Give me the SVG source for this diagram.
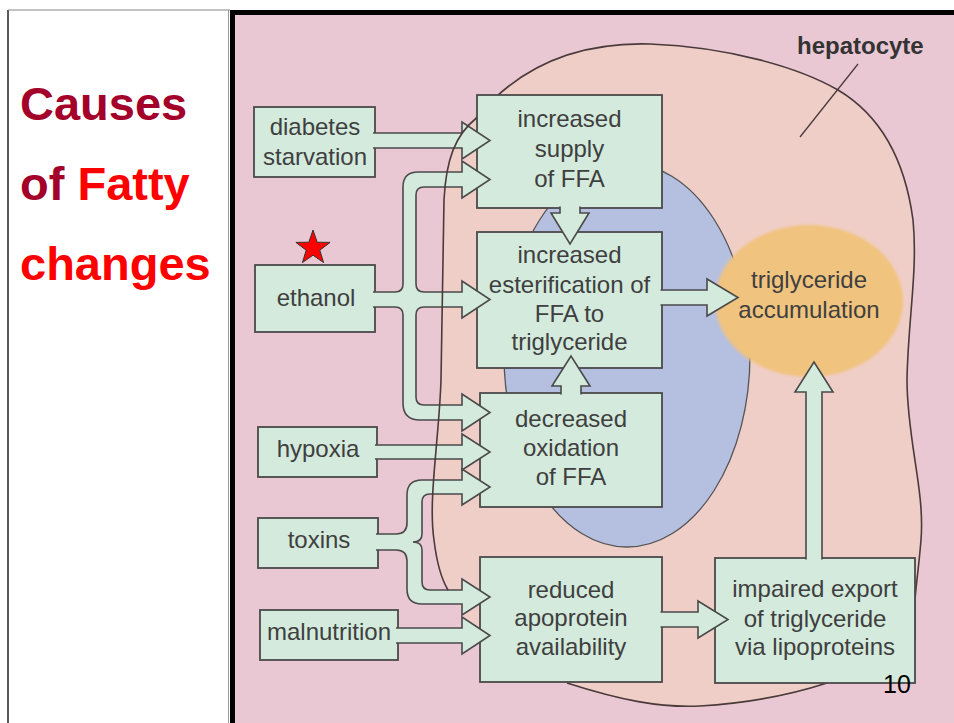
<svg xmlns="http://www.w3.org/2000/svg" width="954" height="723" viewBox="0 0 954 723">
<defs>
<style>
.box{fill:#d3eadc;stroke:#4a4a4a;stroke-width:1.8}
.arr{fill:#d3eadc;stroke:#4a4a4a;stroke-width:1.6;stroke-linejoin:miter}
.t{font-family:"Liberation Sans",Arial,sans-serif;font-size:24px;fill:#3f3f3f;text-anchor:middle}
.title{font-family:"Liberation Sans",Arial,sans-serif;font-size:47px;font-weight:bold}
.outline{fill:none;stroke:#4a3a3a;stroke-width:1.6}
</style>
<filter id="soft" x="-10%" y="-10%" width="120%" height="120%"><feGaussianBlur stdDeviation="1.5"/></filter>
</defs>
<rect x="0" y="0" width="954" height="723" fill="#ffffff"/>
<g id="title-panel">
<line x1="8" y1="10" x2="8" y2="723" stroke="#222" stroke-width="1.5"/>
<line x1="8" y1="10" x2="230" y2="10" stroke="#888" stroke-width="1.2"/>
<line x1="228.5" y1="10" x2="228.5" y2="723" stroke="#999" stroke-width="1"/>
<text class="title" x="20" y="120" fill="#a3002a">Causes</text>
<text class="title" x="20" y="200"><tspan fill="#a3002a">of </tspan><tspan fill="#ff0000">Fatty</tspan></text>
<text class="title" x="20" y="280" fill="#ff0000">changes</text>
</g>
<rect x="235" y="15" width="719" height="708" fill="#eac8d3"/>
<line x1="232.5" y1="10" x2="232.5" y2="723" stroke="#000" stroke-width="5"/>
<line x1="230" y1="12.5" x2="954" y2="12.5" stroke="#000" stroke-width="5"/>
<g id="hepatocyte">
<path d="M 476,118 C 520,65 580,42 650,44 C 730,47 800,68 838,90 C 880,115 905,160 913,220 C 918,270 908,320 907,380 C 907,440 925,490 921,540 C 919,565 916,585 915,600 L 915,683 L 827,683 C 790,695 750,703 700,706 C 660,708 620,700 567,683 L 480,640 L 448,590 C 442,580 437,565 434,540 C 428,500 439,440 441,380 L 444,200 C 446,160 455,135 476,118 Z" fill="#f0cec8"/>
<path class="outline" d="M 476,118 C 520,65 580,42 650,44 C 730,47 800,68 838,90 C 880,115 905,160 913,220 C 918,270 908,320 907,380 C 907,440 925,490 921,540 C 919,565 916,585 915,600 L 915,640"/>
<path class="outline" d="M 827,683 C 790,695 750,703 700,706 C 660,708 620,700 567,683"/>
<text x="797" y="54" font-family="Liberation Sans, Arial, sans-serif" font-size="24" font-weight="bold" fill="#333">hepatocyte</text>
<line x1="858" y1="64" x2="800" y2="137" stroke="#4a3a3a" stroke-width="1.3"/>
</g>
<g id="nucleus">
<ellipse cx="627" cy="355" rx="123" ry="192" fill="#b5c0e0" stroke="#555" stroke-width="1.3"/>
</g>
<g id="n-triglyceride">
<ellipse cx="809" cy="301" rx="94" ry="76" fill="#f0c37e" filter="url(#soft)"/>
<text class="t" x="809" y="288" fill="#453a30">triglyceride</text>
<text class="t" x="809" y="318" fill="#453a30">accumulation</text>
</g>
<g id="n-diabetes">
<rect class="box" x="254" y="107" width="121" height="70"/>
<text class="t" x="315" y="135">diabetes</text>
<text class="t" x="315" y="165">starvation</text>
</g>
<g id="n-ethanol">
<rect class="box" x="255" y="265" width="120" height="67"/>
<text class="t" x="316" y="306">ethanol</text>
</g>
<g id="n-hypoxia">
<rect class="box" x="258" y="427" width="119" height="50"/>
<text class="t" x="318" y="457">hypoxia</text>
</g>
<g id="n-toxins">
<rect class="box" x="258" y="518" width="120" height="50"/>
<text class="t" x="319" y="548">toxins</text>
</g>
<g id="n-malnutrition">
<rect class="box" x="260" y="610" width="138" height="50"/>
<text class="t" x="329" y="640">malnutrition</text>
</g>
<g id="n-supply">
<rect class="box" x="477" y="95" width="185" height="113"/>
<text class="t" x="569.5" y="127">increased</text>
<text class="t" x="569.5" y="157">supply</text>
<text class="t" x="569.5" y="187">of FFA</text>
</g>
<g id="n-esterification">
<rect class="box" x="477" y="232" width="185" height="136"/>
<text class="t" x="569.5" y="263">increased</text>
<text class="t" x="569.5" y="293">esterification of</text>
<text class="t" x="569.5" y="322">FFA to</text>
<text class="t" x="569.5" y="350">triglyceride</text>
</g>
<g id="n-oxidation">
<rect class="box" x="480" y="393" width="182" height="114"/>
<text class="t" x="571" y="427">decreased</text>
<text class="t" x="571" y="456">oxidation</text>
<text class="t" x="571" y="485">of FFA</text>
</g>
<g id="n-apoprotein">
<rect class="box" x="480" y="557" width="182" height="125"/>
<text class="t" x="571" y="598">reduced</text>
<text class="t" x="571" y="626">apoprotein</text>
<text class="t" x="571" y="655">availability</text>
</g>
<g id="n-impaired">
<rect class="box" x="715" y="558" width="200" height="125"/>
<text class="t" x="815" y="597">impaired export</text>
<text class="t" x="815" y="627">of triglyceride</text>
<text class="t" x="815" y="655">via lipoproteins</text>
</g>
<g id="connectors">
<path class="arr" d="M 373,133 L 462,133 L 462,122 L 490,140.5 L 462,159 L 462,148 L 373,148"/>
<path class="arr" d="M 373,292 L 395,292 Q 403,292 403,284 L 403,187 Q 403,172 418,172 L 462,172 L 462,161 L 490,179.5 L 462,198 L 462,187 L 424,187 Q 416,187 416,195 L 416,284 Q 416,292 424,292 L 462,292 L 462,281 L 490,299.5 L 462,318 L 462,307 L 424,307 Q 416,307 416,315 L 416,397 Q 416,405 424,405 L 462,405 L 462,394 L 490,412.5 L 462,431 L 462,420 L 420,420 Q 403,420 403,403 L 403,315 Q 403,307 395,307 L 373,307"/>
<path class="arr" d="M 375,445 L 462,445 L 462,434 L 490,452 L 462,470 L 462,459 L 375,459"/>
<path class="arr" d="M 376,534 L 396,534 Q 407,534 407,523 L 407,495 Q 407,480 422,480 L 462,480 L 462,469 L 490,487 L 462,505 L 462,494 L 430,494 Q 422,494 422,502 L 422,534 Q 422,542 413,542 Q 422,542 422,550 L 422,582 Q 422,590 430,590 L 462,590 L 462,579 L 490,597 L 462,615 L 462,604 L 422,604 Q 407,604 407,589 L 407,561 Q 407,550 396,550 L 376,550"/>
<path class="arr" d="M 396,628 L 462,628 L 462,617 L 490,635.5 L 462,654 L 462,643 L 396,643"/>
<path class="arr" d="M 560,206.5 L 560,213 L 551,213 L 570,244 L 589,213 L 580,213 L 580,206.5"/>
<path class="arr" d="M 561,394.5 L 561,386 L 552,386 L 571,356 L 590,386 L 581,386 L 581,394.5"/>
<path class="arr" d="M 660.5,290 L 707,290 L 707,279 L 738,297.5 L 707,316 L 707,305 L 660.5,305"/>
<path class="arr" d="M 660.5,612 L 698,612 L 698,601 L 728,619.5 L 698,638 L 698,627 L 660.5,627"/>
<path class="arr" d="M 806,559.5 L 806,392 L 795,392 L 814,362 L 833,392 L 822,392 L 822,559.5"/>
</g>
<path class="outline" d="M 476.5,118 C 455,135 446,160 444,200 L 441,380 C 439,440 428,500 434,540 C 437,565 442,580 448,590"/>
<g id="star">
<polygon points="313,230 317.2,242.2 330.1,242.4 319.8,250.2 323.6,262.6 313,255.2 302.4,262.6 306.2,250.2 295.9,242.4 308.8,242.2" fill="#ff0000" stroke="#333" stroke-width="1"/>
</g>
<text x="883" y="693" font-family="Liberation Sans, Arial, sans-serif" font-size="25" fill="#000">10</text>
</svg>
